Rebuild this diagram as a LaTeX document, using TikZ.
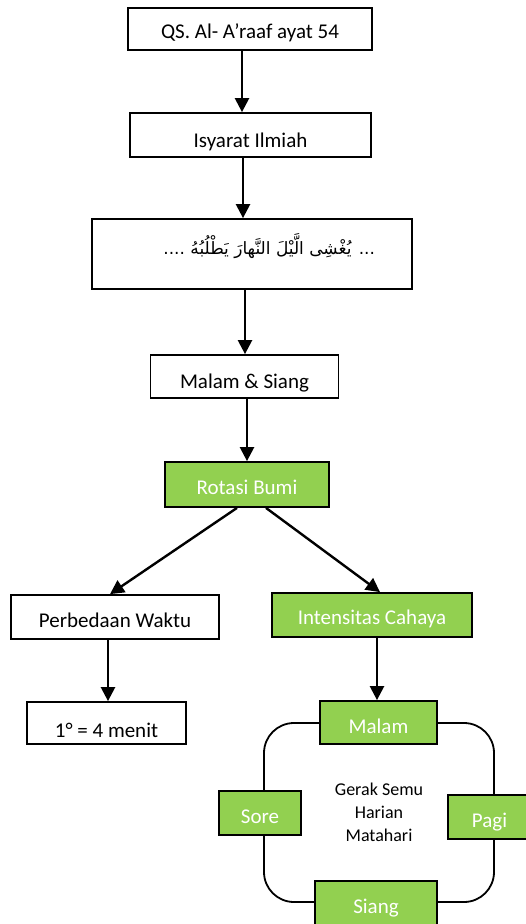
\documentclass[tikz,border=0pt]{standalone}
\usepackage{fontspec}
\setmainfont{Carlito}
\newfontfamily\arabicfont[Script=Arabic]{DejaVu Sans}
\TeXXeTstate=1
\usepackage{tikz}
\usetikzlibrary{arrows.meta}
\definecolor{hijau}{HTML}{92D050}

\begin{document}
\begin{tikzpicture}[
            x = 1pt, y = -1pt, % picture measured like the page, y going down
            > = {Triangle[width=14pt, length=14pt]}, % arrow head style
            line width = 2.4pt % arrow line style
        ]

        \tikzstyle{kotak}=[
            draw = black,
            line width = 1.8pt,
            fill = white,
            inner sep = 0pt,
            font = \fontsize{21}{25}\selectfont
        ]
        \tikzstyle{hijaukotak}=[kotak, fill = hijau, text = white]
        % width, height above baseline, depth below baseline
        \tikzset{ukuran/.style n args={3}{minimum width=#1pt, text height=#2pt, text depth=#3pt}}

        \useasboundingbox (0,0) rectangle (525,924);

        % the cycle behind the four green boxes
        \node[draw, line width=1.8pt, rounded corners=30pt, minimum width=230pt, minimum height=179pt,
              align=center, font=\fontsize{18}{23}\selectfont] (siklus) at (379,812.5)
              {Gerak Semu\\Harian\\Matahari};

        \node[kotak, ukuran={244}{30}{12}] (qs) at (250,29) {QS. Al- A’raaf ayat 54};
        \node[kotak, ukuran={241}{34}{10}] (isy) at (250.5,135) {Isyarat Ilmiah};
        \node[kotak, ukuran={320}{35}{35}] (arab) at (252,254)
              {\makebox[246pt][r]{\fontsize{17}{20}\arabicfont\beginR ... يُغْشِى الَّيْلَ النَّهارَ يَطْلُبُهُ ....\endR}};
        \node[kotak, ukuran={188}{33}{10}] (ms) at (244.5,376.5) {Malam \& Siang};
        \node[hijaukotak, ukuran={164}{32}{13}] (rot) at (247,484.5) {Rotasi Bumi};
        \node[kotak, ukuran={208}{32}{12}] (pw) at (115,617) {Perbedaan Waktu};
        \node[kotak, ukuran={159}{35}{7}] (men) at (106.5,723) {1° = 4 menit};
        \node[hijaukotak, ukuran={200}{31}{13}] (ic) at (372,615) {Intensitas Cahaya};
        \node[hijaukotak, ukuran={117}{32}{11}] (mal) at (378.5,722.5) {Malam};
        \node[hijaukotak, ukuran={82}{32}{12}] (sore) at (260,813) {Sore};
        \node[hijaukotak, ukuran={83}{32}{12}] (pagi) at (489.5,817) {Pagi};
        \node[hijaukotak, ukuran={122}{32}{12}] (siang) at (376,903) {Siang};

        \draw[->] ([xshift=-8pt]qs.south) -- ([xshift=-8.5pt]isy.north);
        \draw[->] ([xshift=-7.5pt]isy.south) -- ([xshift=-9pt]arab.north);
        \draw[->] ([xshift=-7pt]arab.south) -- ([xshift=0.5pt]ms.north);
        \draw[->] ([xshift=2.5pt]ms.south) -- (rot.north);
        \draw[->] ([xshift=-10pt]rot.south) -- ([xshift=-5pt]pw.north);
        \draw[->] ([xshift=19pt]rot.south) -- ([xshift=8pt]ic.north);
        \draw[->] ([xshift=-7pt]pw.south) -- ([xshift=1.5pt]men.north);
        \draw[->] ([xshift=5pt]ic.south) -- ([xshift=-1.5pt]mal.north);

  \end{tikzpicture}
\end{document}
